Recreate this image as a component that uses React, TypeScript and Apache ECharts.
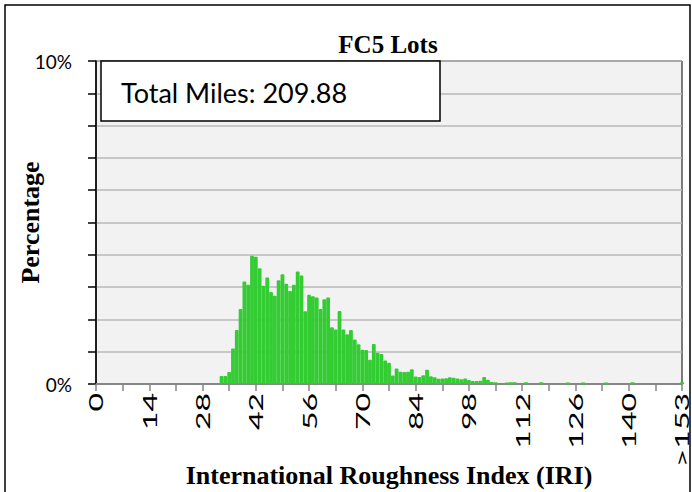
import React, { useEffect, useRef } from 'react';
import * as echarts from 'echarts';

// IRI bins 0..153 plus ">153"
const lastLabel = '>153';
const binCount = 154;
const firstBin = 33;
// percentage of miles per IRI bin, bins 33..110
const mainValues: (number | null)[] = [
  0.25, 0.25, 0.37, 1.1, 1.67, 2.32, 3.17, 3.07, 3.97, 3.94, // 33-42
  3.58, 3.04, 3.3, 2.85, 2.73, 3.21, 3.4, 3.1, 2.88, 3.07, // 43-52
  3.48, 3.36, 2.25, 2.76, 2.72, 2.68, 2.32, 2.62, 2.68, 1.76, // 53-62
  1.69, 2.26, 1.69, 1.54, 1.67, 1.38, 1.23, 1.06, 1.05, 0.75, // 63-72
  1.24, 0.97, 0.93, 0.73, 0.66, 0.26, 0.48, 0.38, 0.37, 0.38, // 73-82
  0.46, 0.23, 0.22, 0.27, 0.44, 0.24, 0.21, 0.16, 0.17, 0.18, // 83-92
  0.21, 0.19, 0.17, 0.15, 0.17, 0.12, 0.09, 0.09, 0.1, 0.22, // 93-102
  0.13, 0.06, 0.05, null, null, 0.03, 0.04, 0.04, // 103-110
];
const sparseBins = [113, 117, 124, 128, 134, 141, 154];
const sparseValues = [0.04, 0.04, 0.03, 0.03, 0.03, 0.04, 0.04];

// x tick labels shown every 14 bins
const xLabelBins = [0, 14, 28, 42, 56, 70, 84, 98, 112, 126, 140, 154];
const yTickLabels: Record<number, string> = { 0: '0%', 10: '10%' };
const titleText = 'FC5 Lots';
const boxText = 'Total Miles: 209.88';
const xName = 'International Roughness Index (IRI)';
const yName = 'Percentage';

export default function App() {
  const ref = useRef<HTMLDivElement>(null);
  useEffect(() => {
    document.body.style.margin = '0';
    if (!ref.current) return;
    const chart = echarts.init(ref.current, undefined, { renderer: 'svg' });

    const categories: string[] = [];
    for (let i = 0; i < binCount; i++) categories.push(String(i));
    categories.push(lastLabel);
    const data: (number | null)[] = categories.map(() => null);
    mainValues.forEach((v, k) => { data[firstBin + k] = v; });
    sparseBins.forEach((b, k) => { data[b] = sparseValues[k]; });

    const green = '#33cc33';
    const sans = 'Lato';
    const serif = 'Liberation Serif';

    const baseGraphic: any[] = [
      {
        type: 'rect', z: 100, silent: true,
        shape: { x: 5, y: 5, width: 685, height: 520 },
        style: { fill: 'none', stroke: '#000', lineWidth: 1.5 },
      },
      {
        type: 'rect', z: 100,
        shape: { x: 101, y: 61, width: 339, height: 60 },
        style: { fill: '#fff', stroke: '#000', lineWidth: 1.5 },
      },
      {
        type: 'text', z: 101, x: 121, y: 92,
        style: { text: boxText, fontFamily: sans, fontSize: 27, fill: '#000', verticalAlign: 'middle', align: 'left' },
      },
      {
        type: 'text', z: 101, x: 388, y: 44,
        style: { text: titleText, fontFamily: serif, fontWeight: 'bold', fontSize: 25, fill: '#000', verticalAlign: 'middle', align: 'center' },
      },
    ];

    chart.setOption({
      animation: false,
      grid: {
        left: 96, right: 10, top: 61, bottom: 108,
        outerBoundsMode: 'none',
        containLabel: false,
        show: true, backgroundColor: '#f2f2f2', borderColor: '#000', borderWidth: 1,
      },
      xAxis: {
        type: 'category',
        data: categories,
        boundaryGap: false,
        axisLine: { show: true, lineStyle: { color: '#868686', width: 2 } },
        axisTick: { show: true, interval: 6, length: 7, lineStyle: { color: '#868686', width: 1.5 } },
        axisLabel: { show: false },
        splitLine: { show: false },
        name: xName,
        nameLocation: 'middle',
        nameGap: 78,
        nameMoveOverlap: false,
        nameTextStyle: { fontFamily: serif, fontWeight: 'bold', fontSize: 26, color: '#000' },
      },
      yAxis: {
        type: 'value',
        min: 0, max: 10, interval: 1,
        axisLine: { show: true, lineStyle: { color: '#000', width: 1.5 } },
        axisTick: { show: true, length: 8, lineStyle: { color: '#000', width: 1.5 } },
        axisLabel: {
          formatter: (v: number) => yTickLabels[v] ?? '',
          color: '#000', fontFamily: sans, fontSize: 19, margin: 24,
        },
        splitLine: { show: true, lineStyle: { color: '#b8b8b8', width: 1.5 } },
        name: yName,
        nameLocation: 'middle',
        nameGap: 53,
        nameMoveOverlap: false,
        nameTextStyle: { fontFamily: serif, fontWeight: 'bold', fontSize: 26, color: '#000' },
      },
      series: [
        {
          type: 'bar',
          data,
          barCategoryGap: '0%',
          itemStyle: { color: green, borderColor: green, borderWidth: 2, borderJoin: 'round' },
        },
      ],
      graphic: baseGraphic,
    });

    // x tick labels, placed at the axis' own pixel positions (rotated, elongated like the reference)
    const labelGraphic = xLabelBins.map((b) => {
      const px = chart.convertToPixel({ xAxisIndex: 0 }, b) as number;
      return {
        type: 'text', z: 50, x: px, y: 393, rotation: Math.PI / 2, scaleX: 1.6, scaleY: 1,
        style: {
          text: categories[b], fontFamily: sans, fontSize: 20, fill: '#000',
          align: 'right', verticalAlign: 'middle',
        },
      };
    });
    chart.setOption({ graphic: [...baseGraphic, ...labelGraphic] });

    return () => chart.dispose();
  }, []);
  return <div ref={ref} style={{ width: 692, height: 492 }} />;
}
